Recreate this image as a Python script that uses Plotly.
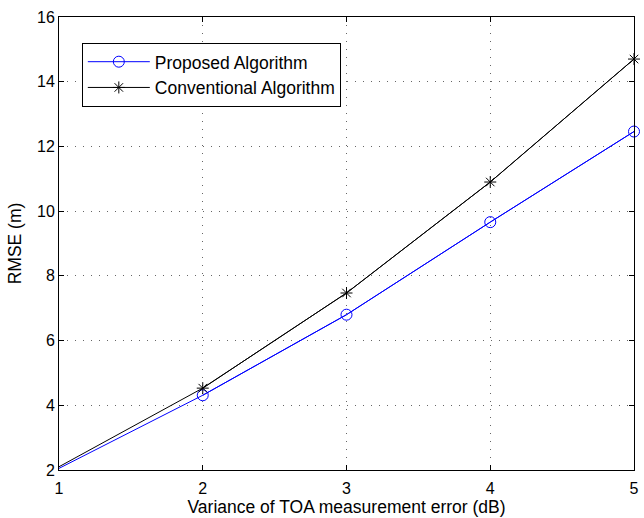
import plotly.graph_objects as go

x_vals = [1, 2, 3, 4, 5]
proposed = [2.05, 4.31, 6.80, 9.66, 12.46]
conventional = [2.10, 4.53, 7.47, 10.90, 14.70]
x_ticks = [1, 2, 3, 4, 5]
y_ticks = [2, 4, 6, 8, 10, 12, 14, 16]

font_family = "Liberation Sans, Arial, Helvetica, sans-serif"

fig = go.Figure()
series = [
    ("Proposed Algorithm", proposed, "#0000ff", "circle-open", 11),
    ("Conventional Algorithm", conventional, "#000000", "asterisk-open", 10),
]
for name, yv, color, symbol, msize in series:
    # full line (reference shows no marker at the first point)
    fig.add_trace(go.Scatter(
        x=x_vals, y=yv, mode="lines", name=name, legendgroup=name, showlegend=False,
        line=dict(color=color, width=1), cliponaxis=False, hoverinfo="skip",
    ))
    fig.add_trace(go.Scatter(
        x=x_vals[1:], y=yv[1:], mode="lines+markers", name=name, legendgroup=name,
        line=dict(color=color, width=1),
        marker=dict(symbol=symbol, size=msize, color=color, line=dict(width=1)),
        cliponaxis=False,
    ))

axis_common = dict(
    showline=True, linecolor="black", linewidth=1, mirror="ticks",
    ticks="inside", ticklen=5, tickcolor="black", tickwidth=1,
    showgrid=True, gridcolor="#666666", gridwidth=1, griddash="1px,7px",
    zeroline=False, tickfont=dict(size=16, color="black", family=font_family),
    ticklabeloverflow="allow",
)

fig.update_xaxes(range=[1, 5], tickvals=x_ticks, ticklabelstandoff=4,
                 title=dict(text="Variance of TOA measurement error (dB)", standoff=4,
                            font=dict(size=17.5, color="black", family=font_family)),
                 **axis_common)
fig.update_yaxes(range=[2, 16], tickvals=y_ticks,
                 title=dict(text="RMSE (m)", standoff=10,
                            font=dict(size=17.5, color="black", family=font_family)),
                 **axis_common)

fig.update_layout(
    width=644, height=518,
    margin=dict(l=59, r=5, t=17, b=46),
    paper_bgcolor="white", plot_bgcolor="white",
    font=dict(family=font_family, color="black"),
    showlegend=True,
    legend=dict(x=0.0397, y=0.943, xanchor="left", yanchor="top",
                bgcolor="white", bordercolor="black", borderwidth=1,
                font=dict(size=17.5, color="black", family=font_family),
                itemwidth=62, tracegroupgap=0),
)

fig.write_html(
    "out.html",
    config={"displayModeBar": False},
    post_script="document.body.style.margin='0';document.body.style.overflow='hidden';",
)
